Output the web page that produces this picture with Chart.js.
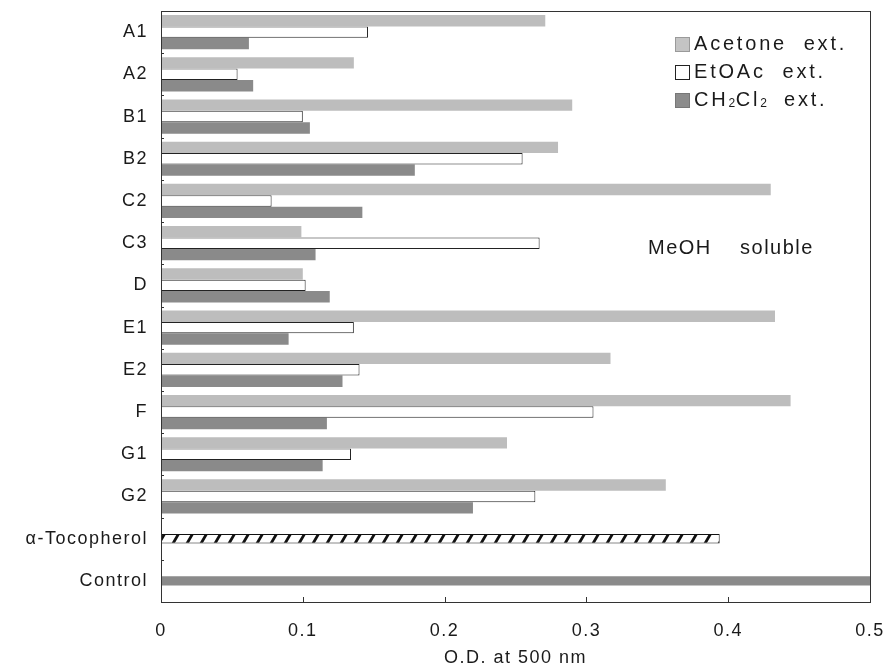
<!DOCTYPE html>
<html>
<head>
<meta charset="utf-8">
<script src="https://cdn.jsdelivr.net/npm/chart.js@4.4.0/dist/chart.umd.min.js"></script>
<style>
    body { margin: 0; background: #fff; }
    #wrap { width: 889px; height: 672px; }
</style>
</head>
<body>
<div id="wrap"><canvas id="odChart"></canvas></div>
<script>
// Values (O.D. at 500 nm)
const categories = ['A1', 'A2', 'B1', 'B2', 'C2', 'C3', 'D', 'E1', 'E2', 'F', 'G1', 'G2', 'α-Tocopherol', 'Control'];
const acetone = [0.271, 0.136, 0.290, 0.280, 0.430, 0.099, 0.100, 0.433, 0.317, 0.444, 0.244, 0.356, null, null];
const etoac   = [0.146, 0.054, 0.100, 0.255, 0.078, 0.267, 0.102, 0.136, 0.140, 0.305, 0.134, 0.264, null, null];
const ch2cl2  = [0.062, 0.065, 0.105, 0.179, 0.142, 0.109, 0.119, 0.090, 0.128, 0.117, 0.114, 0.220, null, null];
const reference = [null, null, null, null, null, null, null, null, null, null, null, null, 0.394, 0.500];
const xTicks = [0, 0.1, 0.2, 0.3, 0.4, 0.5];

const FONT = "'Liberation Sans', Arial, sans-serif";
const ctx = document.getElementById('odChart').getContext('2d');

function makeHatch() {
    const c = document.createElement('canvas');
    c.width = 14;
    c.height = 24;
    const g = c.getContext('2d');
    g.fillStyle = '#fff';
    g.fillRect(0, 0, 14, 24);
    g.strokeStyle = '#111';
    g.lineWidth = 2.8;
    g.beginPath();
    g.moveTo(-14, 24); g.lineTo(0, 0);
    g.moveTo(0, 24); g.lineTo(14, 0);
    g.moveTo(14, 24); g.lineTo(28, 0);
    g.stroke();
    return ctx.createPattern(c, 'repeat');
}

const decorations = {
    id: 'decorations',
    beforeDraw(chart) {
        chart.ctx.letterSpacing = '1.5px';
    },
    afterDraw(chart) {
        const { ctx, chartArea: a, scales: { x, y } } = chart;
        ctx.save();
        // frame
        ctx.strokeStyle = '#333';
        ctx.lineWidth = 1;
        ctx.strokeRect(Math.round(a.left) + 0.5, Math.round(a.top) + 0.5,
            Math.round(a.right - a.left), Math.round(a.bottom - a.top));
        // inward tick marks
        ctx.beginPath();
        xTicks.forEach(v => {
            const px = Math.round(x.getPixelForValue(v)) + 0.5;
            ctx.moveTo(px, a.bottom);
            ctx.lineTo(px, a.bottom - 5);
        });
        for (let i = 0; i < categories.length - 1; i++) {
            const py = Math.round((y.getPixelForValue(i) + y.getPixelForValue(i + 1)) / 2) + 0.5;
            ctx.moveTo(a.left, py);
            ctx.lineTo(a.left + 3, py);
        }
        ctx.stroke();

        // legend
        const items = [
            { fill: '#c4c4c4', stroke: '#9a9a9a', parts: [['Acetone  ext.', 0]] },
            { fill: '#ffffff', stroke: '#222', parts: [['EtOAc  ext.', 0]] },
            { fill: '#8c8c8c', stroke: '#777', parts: [['CH', 0], ['2', 1], ['Cl', 0], ['2', 1], ['  ext.', 0]] }
        ];
        const lx = 675, ly = 44, step = 28;
        ctx.textBaseline = 'middle';
        items.forEach((it, i) => {
            const cy = ly + i * step;
            ctx.fillStyle = it.fill;
            ctx.fillRect(lx, cy - 7, 15, 15);
            ctx.strokeStyle = it.stroke;
            ctx.strokeRect(lx + 0.5, cy - 6.5, 14, 14);
            let tx = lx + 19;
            ctx.fillStyle = '#1a1a1a';
            it.parts.forEach(([txt, sub]) => {
                ctx.letterSpacing = sub ? '0.5px' : '2.8px';
                ctx.font = (sub ? '12px ' : '20px ') + FONT;
                ctx.fillText(txt, tx, sub ? cy + 4 : cy);
                tx += ctx.measureText(txt).width;
            });
        });

        // note
        ctx.letterSpacing = '1.5px';
        ctx.font = '20px ' + FONT;
        ctx.fillText('MeOH    soluble', 648, 248);
        ctx.restore();
    }
};

new Chart(ctx, {
    type: 'bar',
    data: {
        labels: categories,
        datasets: [
            {
                label: 'Acetone ext.',
                data: acetone,
                backgroundColor: '#bdbdbd',
                borderWidth: 0,
                categoryPercentage: 0.81,
                barPercentage: 1.0
            },
            {
                label: 'EtOAc ext.',
                data: etoac,
                backgroundColor: '#ffffff',
                borderColor: '#222',
                borderWidth: 1,
                categoryPercentage: 0.81,
                barPercentage: 1.0
            },
            {
                label: 'CH2Cl2 ext.',
                data: ch2cl2,
                backgroundColor: '#8a8a8a',
                borderWidth: 0,
                categoryPercentage: 0.81,
                barPercentage: 1.0
            },
            {
                label: 'Reference',
                data: reference,
                grouped: false,
                barPercentage: 0.28,
                backgroundColor: (c) => c.dataIndex === 12 ? makeHatch() : '#8a8a8a',
                borderColor: '#111',
                borderWidth: (c) => c.dataIndex === 12 ? 1 : 0,
                borderSkipped: false
            }
        ]
    },
    options: {
        indexAxis: 'y',
        responsive: true,
        maintainAspectRatio: false,
        animation: false,
        layout: { padding: { left: 0, top: 11, right: 19, bottom: 0 } },
        plugins: {
            legend: { display: false },
            tooltip: { enabled: false }
        },
        scales: {
            x: {
                type: 'linear',
                min: 0,
                max: 0.5,
                afterBuildTicks(scale) {
                    scale.ticks = xTicks.map(v => ({ value: v }));
                },
                afterFit(scale) {
                    scale.height = 70;
                    scale.paddingLeft = 0;
                    scale.paddingRight = 0;
                },
                grid: { display: false, drawTicks: false },
                border: { color: '#333', width: 1 },
                ticks: {
                    color: '#1a1a1a',
                    font: { family: FONT, size: 18 },
                    padding: 18,
                    callback: (v) => String(v)
                },
                title: {
                    display: true,
                    text: 'O.D. at 500 nm',
                    color: '#1a1a1a',
                    font: { family: FONT, size: 18 },
                    padding: { top: 0, bottom: 3 }
                }
            },
            y: {
                afterFit(scale) {
                    scale.width = 161;
                    scale.paddingTop = 0;
                    scale.paddingBottom = 0;
                },
                grid: { display: false, drawTicks: false },
                border: { color: '#333', width: 1 },
                ticks: {
                    color: '#1a1a1a',
                    font: { family: FONT, size: 18 },
                    padding: 13
                }
            }
        }
    },
    plugins: [decorations]
});
</script>
</body>
</html>
